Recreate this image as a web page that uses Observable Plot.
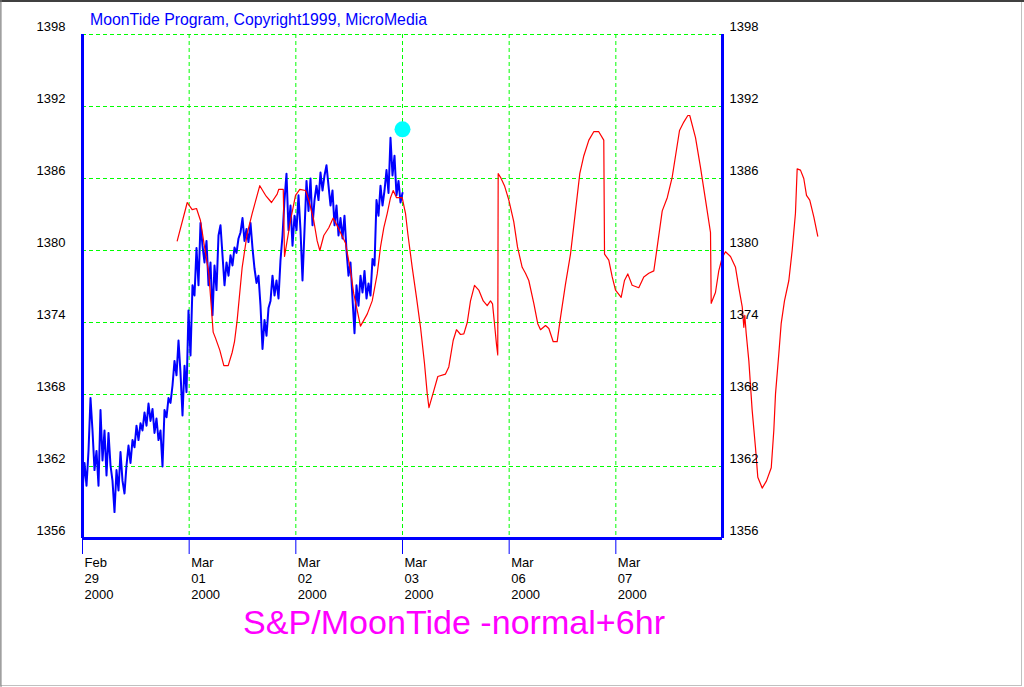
<!DOCTYPE html>
<html><head><meta charset="utf-8">
<script src="https://cdn.jsdelivr.net/npm/d3@7"></script>
<script src="https://cdn.jsdelivr.net/npm/@observablehq/plot@0.6"></script>
<style>
html,body{margin:0;padding:0;background:#fff;}
#wrap{position:relative;width:1024px;height:687px;overflow:hidden;}
</style></head><body><div id="wrap"></div>
<script>
const yTicks = [1356,1362,1368,1374,1380,1386,1392,1398];
const dayTicks = [0,1,2,3,4,5];
const dayLabels = ["Feb\n29\n2000","Mar\n01\n2000","Mar\n02\n2000","Mar\n03\n2000","Mar\n06\n2000","Mar\n07\n2000"];
const chartTitle = "MoonTide Program, Copyright1999, MicroMedia";
const footer = "S&P/MoonTide -normal+6hr";

// S&P price ticks (blue), regularly spaced from day 0 to day 3
const blueSpan = [0, 3];
const blueValues = [1360.0,1362.3,1360.4,1363.3,1367.7,1365.0,1361.7,1363.3,1360.4,1366.7,
1362.5,1365.0,1361.25,1364.8,1362.1,1360.8,1358.2,1361.7,1360.0,1363.2,
1360.8,1359.75,1362.1,1363.75,1362.3,1364.2,1363.6,1365.4,1364.2,1365.6,
1365.0,1366.5,1365.4,1367.25,1365.8,1366.8,1364.8,1366.0,1364.2,1365.0,
1362.0,1366.7,1366.1,1367.7,1367.3,1368.75,1370.8,1369.6,1372.5,1369.8,
1366.25,1370.4,1368.2,1375.0,1371.25,1377.1,1376.25,1380.2,1377.1,1382.3,
1380.4,1379.0,1380.8,1377.1,1379.0,1374.6,1378.75,1376.7,1381.25,1382.1,
1379.6,1377.1,1379.0,1377.9,1379.6,1378.75,1380.25,1379.8,1381.0,1381.5,
1382.7,1380.8,1381.8,1380.7,1382.3,1380.2,1378.5,1377.3,1377.9,1375.4,
1371.8,1374.2,1372.9,1375.2,1375.8,1377.9,1376.25,1377.5,1376.0,1379.2,
1381.25,1384.2,1386.4,1381.7,1383.75,1380.4,1382.9,1381.7,1384.6,1381.7,
1377.5,1381.7,1385.8,1383.3,1386.0,1382.1,1384.2,1385.4,1384.2,1386.5,
1385.0,1386.25,1387.1,1385.4,1383.75,1385.0,1382.1,1383.75,1381.25,1382.7,
1381.0,1382.9,1380.0,1377.9,1379.0,1376.0,1373.1,1377.1,1375.4,1377.9,
1376.5,1378.3,1376.0,1377.25,1376.25,1379.3,1378.75,1384.2,1382.9,1385.4,
1383.75,1385.0,1386.7,1384.8,1389.4,1386.25,1387.9,1384.6,1385.8,1384.0,
1384.8];

// MoonTide forecast (red)
const redX = [0.888,0.982,1.028,1.069,1.106,1.144,1.184,1.225,1.247,1.287,1.325,1.366,1.403,1.425,1.450,1.497,1.544,1.591,1.662,1.716,
1.772,1.825,1.840,1.882,1.894,1.950,1.997,2.037,2.091,2.122,2.168,2.200,2.225,2.262,2.309,2.350,2.403,2.466,2.513,2.543,
2.606,2.669,2.716,2.763,2.794,2.825,2.857,2.8875,2.913,2.944,2.997,3.028,3.050,3.091,3.131,3.169,3.206,3.232,3.248,3.293,
3.331,3.403,3.434,3.475,3.506,3.544,3.575,3.607,3.6375,3.675,3.715,3.757,3.794,3.825,3.844,3.8625,3.881,3.893,3.897,3.919,
3.956,3.997,4.043,4.078,4.122,4.153,4.184,4.231,4.268,4.294,4.341,4.372,4.413,4.450,4.481,4.528,4.575,4.622,4.662,4.700,
4.747,4.793,4.840,4.887,4.894,4.934,4.966,4.997,5.050,5.081,5.112,5.153,5.215,5.262,5.309,5.356,5.388,5.435,5.482,5.528,
5.597,5.637,5.675,5.693,5.747,5.794,5.841,5.8875,5.894,5.934,5.965,5.997,6.028,6.075,6.122,6.153,6.185,6.200,6.209,6.222,
6.247,6.278,6.309,6.331,6.372,6.4125,6.457,6.481,6.497,6.528,6.550,6.581,6.622,6.653,6.684,6.700,6.731,6.762,6.7875,6.818,
6.856,6.893];
const redY = [1380.8,1384.0,1383.4,1383.5,1382.5,1380.3,1378.1,1373.2,1372.7,1371.7,1370.4,1370.4,1371.5,1372.4,1374.2,1378.6,1381.4,1383.1,1385.4,1384.6,
1384.0,1384.7,1385.1,1385.1,1379.5,1382.5,1384.6,1385.1,1385.0,1384.2,1382.5,1380.8,1380.0,1381.25,1381.9,1382.7,1381.8,1380.6,1378.3,1376.4,
1373.7,1374.7,1375.8,1378.05,1380.3,1381.9,1383.1,1384.4,1385.0,1384.4,1384.4,1383.1,1381.4,1378.6,1376.1,1373.6,1370.6,1368.05,1366.9,1368.3,
1369.5,1369.7,1370.3,1372.5,1373.4,1373.0,1373.05,1374.0,1375.8,1377.1,1376.7,1375.8,1375.4,1375.8,1375.55,1373.9,1372.2,1371.3,1386.4,1386.1,
1385.4,1384.2,1382.4,1380.3,1378.6,1378.1,1377.5,1375.6,1373.9,1373.4,1373.75,1373.5,1372.4,1372.4,1374.4,1377.2,1379.7,1383.3,1386.4,1387.9,
1389.2,1389.9,1389.9,1389.2,1379.7,1379.2,1377.8,1376.7,1376.1,1377.5,1378.05,1377.1,1376.9,1377.8,1378.1,1378.3,1380.3,1383.3,1384.4,1386.1,
1390.0,1390.7,1391.25,1391.25,1389.4,1386.9,1384.2,1381.5,1375.6,1376.5,1378.3,1379.4,1379.9,1379.5,1378.6,1376.9,1375.3,1373.6,1374.6,1373.1,
1370.8,1366.7,1363.6,1361.1,1360.2,1360.8,1361.9,1365.0,1368.05,1371.4,1373.9,1375.8,1377.5,1380.0,1383.1,1386.8,1386.7,1386.0,1384.6,1384.2,
1382.8,1381.2];

const nowX = [3.0];
const nowY = [1390.1];

const blue = blueValues.map((v, i) => ({x: blueSpan[0] + i * (blueSpan[1] - blueSpan[0]) / (blueValues.length - 1), y: v}));
const n = Math.min(redX.length, redY.length);
const red = redX.slice(0, n).map((x, i) => ({x, y: redY[i]}));
const now = nowX.map((x, i) => ({x, y: nowY[i]}));

const font = "'Liberation Sans', Arial, Helvetica, sans-serif";
const svg = Plot.plot({
  width: 1024, height: 687,
  marginLeft: 82, marginRight: 302, marginTop: 34, marginBottom: 149,
  x: {type: "linear", domain: [0, 6], label: null},
  y: {domain: [1356, 1398], label: null},
  style: {fontFamily: font, fontSize: "13px", background: "#fff", overflow: "visible"},
  marks: [
    Plot.ruleY(yTicks.slice(1), {stroke: "#00ff00", strokeDasharray: "4,3"}),
    Plot.ruleX(dayTicks.slice(1), {stroke: "#00ff00", strokeDasharray: "4,3"}),
    Plot.line(blue, {x: "x", y: "y", stroke: "#0000ff", strokeWidth: 2}),
    Plot.line(red, {x: "x", y: "y", stroke: "#ff0000", strokeWidth: 1.2}),
    Plot.dot(now, {x: "x", y: "y", r: 8, fill: "#00ffff", stroke: "none"}),
    Plot.ruleX([0, 6], {stroke: "#0000ff", strokeWidth: 3}),
    Plot.ruleY([1356], {stroke: "#0000ff", strokeWidth: 3}),
    Plot.axisY({ticks: yTicks, anchor: "left", label: null, tickSize: 0, tickPadding: 17, dy: -8, tickFormat: d => String(d), fill: "black"}),
    Plot.axisY({ticks: yTicks, anchor: "right", label: null, tickSize: 0, tickPadding: 7, dy: -8, tickFormat: d => String(d), fill: "black"}),
    Plot.axisX({ticks: dayTicks, label: null, tickSize: 16, stroke: "#0000ff", tickFormat: () => ""}),
    Plot.axisX({ticks: dayTicks, label: null, tickSize: 0, tickPadding: 17, fill: "black",
      tickFormat: d => dayLabels[d], textAnchor: "start", dx: 2, lineHeight: 1.23})
  ]
});
document.getElementById("wrap").appendChild(svg);

const s = d3.select(svg);
s.append("text").attr("x", 90).attr("y", 25).attr("fill", "#0000ff").attr("text-anchor", "start")
  .attr("font-family", font).attr("font-size", 16)
  .attr("textLength", 337).attr("lengthAdjust", "spacingAndGlyphs").text(chartTitle);
s.append("text").attr("x", 243).attr("y", 634).attr("fill", "#ff00ff").attr("text-anchor", "start")
  .attr("font-family", font).attr("font-size", 33)
  .attr("textLength", 422).attr("lengthAdjust", "spacingAndGlyphs").text(footer);
s.append("rect").attr("x", 0.5).attr("y", 0.5).attr("width", 1021).attr("height", 685)
  .attr("fill", "none").attr("stroke", "#808080").attr("stroke-dasharray", "1,1");
s.append("line").attr("x1", 0).attr("x2", 1024).attr("y1", 1).attr("y2", 1).attr("stroke", "#404040").attr("stroke-width", 2);
s.append("line").attr("x1", 1).attr("x2", 1).attr("y1", 0).attr("y2", 687).attr("stroke", "#808080").attr("stroke-width", 1);
</script></body></html>
